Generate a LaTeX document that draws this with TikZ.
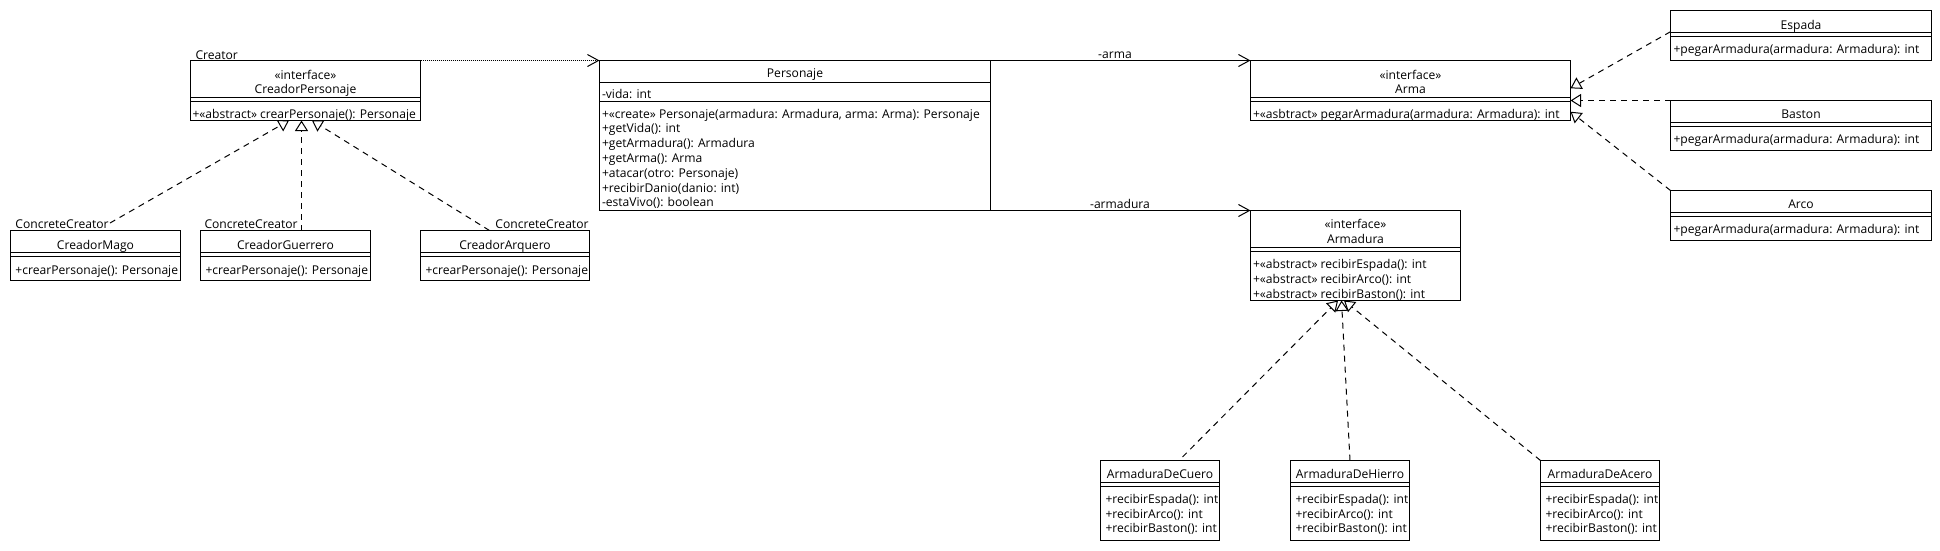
\documentclass[tikz,border=0pt]{standalone}
\usepackage{fontspec}
\setmainfont{Open Sans}
\usetikzlibrary{arrows.meta}
\tikzset{
  umlbox/.style={draw=black, line width=1pt, fill=white, inner sep=0pt, outer sep=0pt},
  sepline/.style={draw=black, line width=1pt},
  txt/.style={font=\fontsize{12.1pt}{14pt}\selectfont, inner sep=0pt, outer sep=0pt, text height=12pt, text depth=1pt, text=black},
  realize/.style={draw=black, line width=1pt, dash pattern=on 6pt off 5pt, -{Triangle[open, length=10.5pt, width=13pt]}},
  assoc/.style={draw=black, line width=1pt, -{Straight Barb[length=11pt, width=12pt]}},
  depend/.style={draw=black, line width=1pt, dash pattern=on 1pt off 1pt, -{Straight Barb[length=11pt, width=12pt]}},
}
\newcommand\umlsep[2]{\draw[sepline] ([yshift=-#2pt]#1.north west) -- ([yshift=-#2pt]#1.north east);}
\begin{document}
\begin{tikzpicture}[x=1pt,y=-1pt]
\useasboundingbox (0,0) rectangle (1940,550);
\fill[white] (0,0) rectangle (1940,550);

% ---------- CreadorPersonaje ----------
\node[umlbox, minimum width=230pt, minimum height=60pt, anchor=north west] (cp) at (190.5,60.5) {};
\umlsep{cp}{37}\umlsep{cp}{41}
\node[txt, anchor=west] (cp-lbl) at (195.5,54) {Creator};
\node[txt] (cp-st) at (305.5,73.7) {«interface»};
\node[txt] (cp-nm) at (305.5,88.3) {CreadorPersonaje};
\node[txt, anchor=west] (cp-m1) at (192.5,112.5) {+«abstract» crearPersonaje(): Personaje};

% ---------- Personaje ----------
\node[umlbox, minimum width=391pt, minimum height=150pt, anchor=north west] (pe) at (599.5,60.5) {};
\umlsep{pe}{22}\umlsep{pe}{41}
\node[txt] (pe-nm) at (795,72) {Personaje};
\node[txt, anchor=west] (pe-a1) at (602,92.5) {-vida: int};
\node[txt, anchor=west] (pe-m1) at (602,112.5) {+«create» Personaje(armadura: Armadura, arma: Arma): Personaje};
\node[txt, anchor=west] (pe-m2) at (602,127.3) {+getVida(): int};
\node[txt, anchor=west] (pe-m3) at (602,142.1) {+getArmadura(): Armadura};
\node[txt, anchor=west] (pe-m4) at (602,156.9) {+getArma(): Arma};
\node[txt, anchor=west] (pe-m5) at (602,171.7) {+atacar(otro: Personaje)};
\node[txt, anchor=west] (pe-m6) at (602,186.5) {+recibirDanio(danio: int)};
\node[txt, anchor=west] (pe-m7) at (602,201.3) {-estaVivo(): boolean};

% ---------- Arma ----------
\node[umlbox, minimum width=320pt, minimum height=60pt, anchor=north west] (ar) at (1250.5,60.5) {};
\umlsep{ar}{37}\umlsep{ar}{41}
\node[txt] (ar-st) at (1410.5,73.5) {«interface»};
\node[txt] (ar-nm) at (1410.5,87.8) {Arma};
\node[txt, anchor=west] (ar-m1) at (1253,112.8) {+«asbtract» pegarArmadura(armadura: Armadura): int};

% ---------- Armadura ----------
\node[umlbox, minimum width=210pt, minimum height=90pt, anchor=north west] (am) at (1250.5,210.5) {};
\umlsep{am}{37}\umlsep{am}{41}
\node[txt] (am-st) at (1355.5,223.3) {«interface»};
\node[txt] (am-nm) at (1355.5,238.3) {Armadura};
\node[txt, anchor=west] (am-m1) at (1253,263) {+«abstract» recibirEspada(): int};
\node[txt, anchor=west] (am-m2) at (1253,278) {+«abstract» recibirArco(): int};
\node[txt, anchor=west] (am-m3) at (1253,293) {+«abstract» recibirBaston(): int};

% ---------- Espada / Baston / Arco ----------
\node[umlbox, minimum width=261pt, minimum height=50pt, anchor=north west] (es) at (1670.5,10.5) {};
\umlsep{es}{22}\umlsep{es}{26}
\node[txt] (es-nm) at (1801,24) {Espada};
\node[txt, anchor=west] (es-m1) at (1673.5,48) {+pegarArmadura(armadura: Armadura): int};

\node[umlbox, minimum width=261pt, minimum height=50pt, anchor=north west] (ba) at (1670.5,100.5) {};
\umlsep{ba}{22}\umlsep{ba}{26}
\node[txt] (ba-nm) at (1801,113) {Baston};
\node[txt, anchor=west] (ba-m1) at (1673.5,138) {+pegarArmadura(armadura: Armadura): int};

\node[umlbox, minimum width=261pt, minimum height=50pt, anchor=north west] (ac) at (1670.5,190.5) {};
\umlsep{ac}{22}\umlsep{ac}{26}
\node[txt] (ac-nm) at (1801,203) {Arco};
\node[txt, anchor=west] (ac-m1) at (1673.5,228) {+pegarArmadura(armadura: Armadura): int};

% ---------- Concrete creators ----------
\node[umlbox, minimum width=170pt, minimum height=50pt, anchor=north west] (cm) at (10.5,230.5) {};
\umlsep{cm}{22}\umlsep{cm}{26}
\node[txt, anchor=west] (cm-lbl) at (15.5,223.3) {ConcreteCreator};
\node[txt] (cm-nm) at (95.5,243.5) {CreadorMago};
\node[txt, anchor=west] (cm-m1) at (15.5,268.5) {+crearPersonaje(): Personaje};

\node[umlbox, minimum width=170pt, minimum height=50pt, anchor=north west] (cg) at (200.5,230.5) {};
\umlsep{cg}{22}\umlsep{cg}{26}
\node[txt, anchor=west] (cg-lbl) at (204.5,223.3) {ConcreteCreator};
\node[txt] (cg-nm) at (285.5,243.5) {CreadorGuerrero};
\node[txt, anchor=west] (cg-m1) at (205.5,268.5) {+crearPersonaje(): Personaje};

\node[umlbox, minimum width=169pt, minimum height=50pt, anchor=north west] (ca) at (420.5,230.5) {};
\umlsep{ca}{22}\umlsep{ca}{26}
\node[txt, anchor=east] (ca-lbl) at (588.5,223.3) {ConcreteCreator};
\node[txt] (ca-nm) at (505,243.5) {CreadorArquero};
\node[txt, anchor=west] (ca-m1) at (425.5,268.5) {+crearPersonaje(): Personaje};

% ---------- Armadura implementations ----------
\node[umlbox, minimum width=119pt, minimum height=80pt, anchor=north west] (cu) at (1100.5,460.5) {};
\umlsep{cu}{22}\umlsep{cu}{26}
\node[txt] (cu-nm) at (1160,473.3) {ArmaduraDeCuero};
\node[txt, anchor=west] (cu-m1) at (1105.5,498) {+recibirEspada(): int};
\node[txt, anchor=west] (cu-m2) at (1105.5,512.7) {+recibirArco(): int};
\node[txt, anchor=west] (cu-m3) at (1105.5,527.4) {+recibirBaston(): int};

\node[umlbox, minimum width=119pt, minimum height=80pt, anchor=north west] (hi) at (1290.5,460.5) {};
\umlsep{hi}{22}\umlsep{hi}{26}
\node[txt] (hi-nm) at (1350,473.3) {ArmaduraDeHierro};
\node[txt, anchor=west] (hi-m1) at (1295.5,498) {+recibirEspada(): int};
\node[txt, anchor=west] (hi-m2) at (1295.5,512.7) {+recibirArco(): int};
\node[txt, anchor=west] (hi-m3) at (1295.5,527.4) {+recibirBaston(): int};

\node[umlbox, minimum width=119pt, minimum height=80pt, anchor=north west] (ace) at (1540.5,460.5) {};
\umlsep{ace}{22}\umlsep{ace}{26}
\node[txt] (ace-nm) at (1600,473.3) {ArmaduraDeAcero};
\node[txt, anchor=west] (ace-m1) at (1545.5,498) {+recibirEspada(): int};
\node[txt, anchor=west] (ace-m2) at (1545.5,512.7) {+recibirArco(): int};
\node[txt, anchor=west] (ace-m3) at (1545.5,527.4) {+recibirBaston(): int};

% ---------- association labels ----------
\node[txt] (lbl-arma) at (1115,52.7) {-arma};
\node[txt] (lbl-armadura) at (1120,203.3) {-armadura};

% ---------- connector end points ----------
\coordinate (cp-t1) at (289,120.5);
\coordinate (cp-t2) at (301.5,120.5);
\coordinate (cp-t3) at (312,120.5);
\coordinate (cm-e) at (110,223);
\coordinate (cg-e) at (301.5,230.5);
\coordinate (ca-e) at (489.5,230.5);
\coordinate (ar-t1) at (1570.5,88.3);
\coordinate (ar-t2) at (1570.5,100.5);
\coordinate (ar-t3) at (1570.5,111.7);
\coordinate (es-e) at (1670.5,31.7);
\coordinate (am-t1) at (1338,300.5);
\coordinate (am-t2) at (1341.5,300.5);
\coordinate (am-t3) at (1344,300.5);
\coordinate (cu-e) at (1182.5,457);
\coordinate (hi-e) at (1350,460.5);

% ---------- connectors ----------
\draw[realize] (cm-e) -- (cp-t1);
\draw[realize] (cg-e) -- (cp-t2);
\draw[realize] (ca-e) -- (cp-t3);
\draw[depend] (cp.north east) -- (pe.north west);
\draw[assoc] (pe.north east) -- (ar.north west);
\draw[assoc] (pe.south east) -- (am.north west);
\draw[realize] (es-e) -- (ar-t1);
\draw[realize] (ba.north west) -- (ar-t2);
\draw[realize] (ac.north west) -- (ar-t3);
\draw[realize] (cu-e) -- (am-t1);
\draw[realize] (hi-e) -- (am-t2);
\draw[realize] (ace.north west) -- (am-t3);
\end{tikzpicture}
\end{document}
